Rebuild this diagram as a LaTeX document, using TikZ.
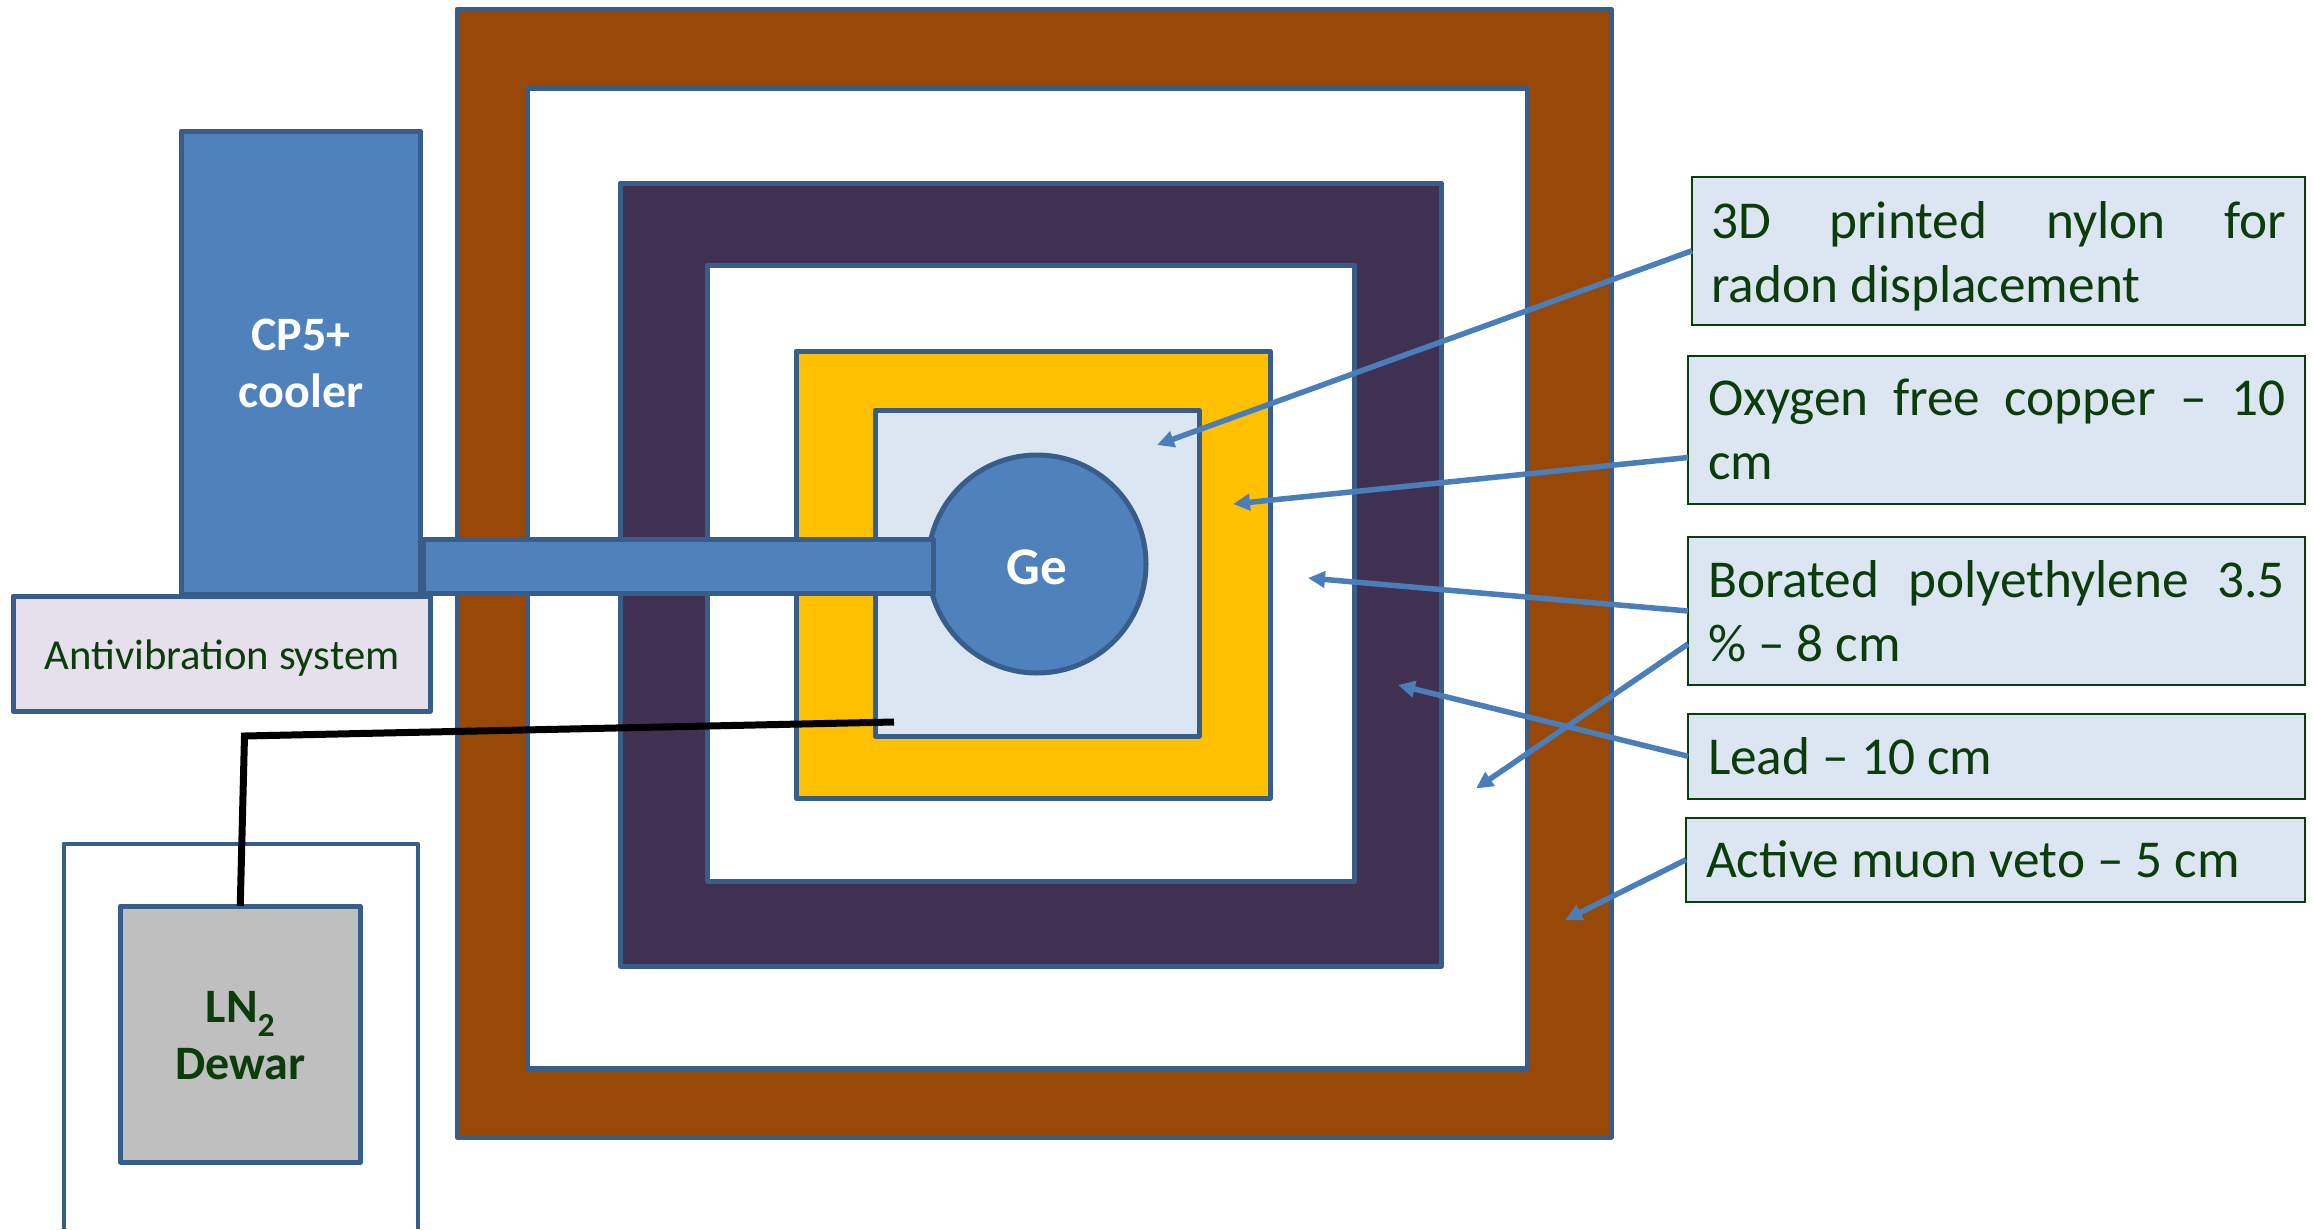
\documentclass[tikz,border=0pt]{standalone}
\usepackage{fontspec}
\setmainfont{Carlito}
\usetikzlibrary{arrows.meta}
\definecolor{edgeblue}{HTML}{385D8A}
\definecolor{fillblue}{HTML}{4F81BD}
\definecolor{arrowblue}{HTML}{4A7EBB}
\definecolor{brownveto}{HTML}{984807}
\definecolor{purplelead}{HTML}{403152}
\definecolor{goldcu}{HTML}{FFC000}
\definecolor{palefill}{HTML}{DCE6F2}
\definecolor{lavfill}{HTML}{E6E0EC}
\definecolor{greyfill}{HTML}{BFBFBF}
\definecolor{inkgreen}{HTML}{0B3D0B}
\newcommand\rectnode[6]{%
  \pgfmathsetmacro\rw{#4-#2}\pgfmathsetmacro\rh{#5-#3}%
  \pgfmathsetmacro\rx{(#4+#2)/2}\pgfmathsetmacro\ry{(#5+#3)/2}%
  \node[#6,minimum width=\rw pt,minimum height=\rh pt] (#1) at (\rx,\ry)}
\tikzset{
  layer/.style={draw=edgeblue,line width=5pt,line join=round,rectangle,inner sep=0pt,outer sep=0pt},
  label box/.style={draw=inkgreen,line width=2pt,fill=palefill,rectangle,inner sep=0pt,outer sep=0pt,
    text=inkgreen,font=\fontsize{53.3}{63.5}\selectfont,align=left},
  pointer/.style={draw=arrowblue,line width=5.5pt,-{Triangle[length=17pt,width=16pt]}},
  boldwhite/.style={text=white,font=\fontsize{48}{57}\selectfont\bfseries,align=center},
  boldgreen/.style={text=inkgreen,font=\fontsize{48}{57}\selectfont\bfseries,align=center}
}
\newcommand\just[2]{\makebox[#1pt][s]{#2}}
\begin{document}
\begin{tikzpicture}[x=1pt,y=-1pt]
\useasboundingbox (0,0) rectangle (2313,1229);
\fill[white] (0,0) rectangle (2313,1229);
\rectnode{veto}{457}{9}{1611}{1137}{layer,fill=brownveto}{};
\rectnode{vetoin}{527.5}{88}{1527}{1068.5}{layer,fill=white}{};
\rectnode{lead}{620.5}{183}{1441}{966}{layer,fill=purplelead}{};
\rectnode{leadin}{707}{265}{1354}{881}{layer,fill=white}{};
\rectnode{copper}{796}{351}{1270}{798}{layer,fill=goldcu}{};
\rectnode{nylon}{875}{410}{1199}{736}{layer,fill=palefill}{};
\rectnode{cooler}{181}{131}{420.5}{594}{layer,fill=fillblue}{};
\node[boldwhite] (coolertext) at (301,363.5) {CP5+\\cooler};
\node[circle,draw=edgeblue,line width=5pt,fill=fillblue,minimum size=218pt,inner sep=0pt,outer sep=0pt] (ge) at (1037,564) {};
\rectnode{pipe}{423}{539.5}{933.5}{593.5}{layer,fill=fillblue}{};
\node[text=white,font=\fontsize{53}{60}\selectfont\bfseries] (getext) at (1037,567) {Ge};
\rectnode{anti}{13}{596}{430}{711}{layer,fill=lavfill}{};
\node[text=inkgreen,font=\fontsize{42.7}{50}\selectfont] (antitext) at (222,658) {Antivibration system};
\draw[edgeblue,line width=4pt,line join=round] (63.5,1229) -- (63.5,843.5) -- (417.5,843.5) -- (417.5,1229);
\rectnode{dewar}{120.5}{906}{360}{1162}{layer,fill=greyfill}{};
\node[boldgreen] (dewartext) at (240.5,1036) {LN\textsubscript{2}\\Dewar};
\coordinate (probe) at (894,722);
\coordinate (bend) at (244.5,736);
\draw[black,line width=7pt,miter limit=10] (probe) -- (bend) -- (dewar.north);
\rectnode{b1}{1692}{176.5}{2305}{325}{label box}{\rule{0pt}{48pt}\just{575}{3D printed nylon for}\\radon displacement};
\rectnode{b2}{1688}{355.5}{2305}{503.5}{label box}{\just{577}{Oxygen free copper – 10}\\cm};
\rectnode{b3}{1688}{537}{2305}{685}{label box}{\just{577}{Borated polyethylene 3.5}\\\% – 8 cm};
\rectnode{b4}{1688}{714}{2305}{798.5}{label box}{\makebox[577pt][l]{Lead – 10 cm}};
\rectnode{b5}{1686}{818}{2305}{901.5}{label box}{\makebox[579pt][l]{Active muon veto – 5 cm}};
\coordinate (t1) at (1157,445);
\coordinate (t2) at (1233,504);
\coordinate (t3) at (1308,578);
\coordinate (t4) at (1476,788.5);
\coordinate (t5) at (1398,685);
\coordinate (t6) at (1565,920);
\draw[pointer] (b1.west) -- (t1);
\draw[pointer] ([yshift=-28pt]b2.west) -- (t2);
\draw[pointer] (b3.west) -- (t3);
\draw[pointer] ([yshift=-33pt]b3.west) -- (t4);
\draw[pointer] (b4.west) -- (t5);
\draw[pointer] (b5.west) -- (t6);
\end{tikzpicture}
\end{document}
